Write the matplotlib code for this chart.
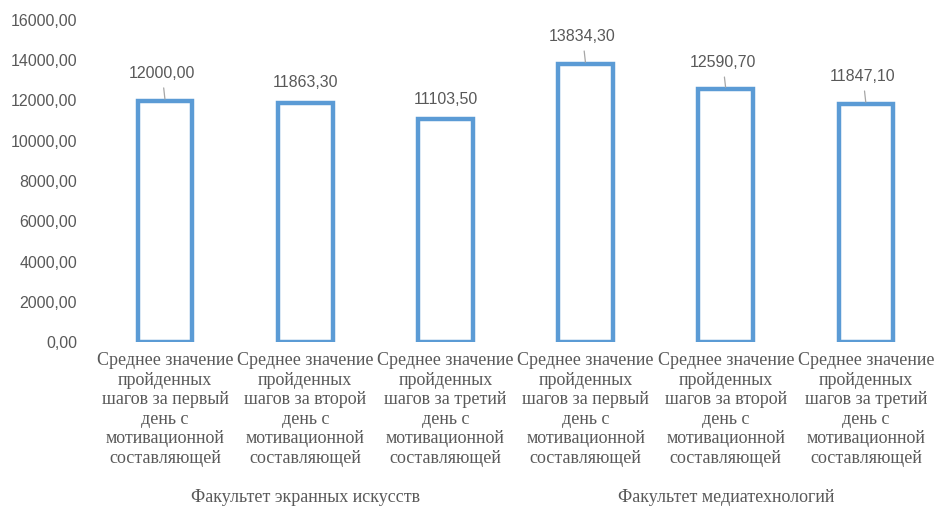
import matplotlib.pyplot as plt

# average steps per day, two faculties x three days
faculties = ['Факультет экранных искусств', 'Факультет медиатехнологий']
day_labels = [
    'Среднее значение\nпройденных\nшагов за первый\nдень с\nмотивационной\nсоставляющей',
    'Среднее значение\nпройденных\nшагов за второй\nдень с\nмотивационной\nсоставляющей',
    'Среднее значение\nпройденных\nшагов за третий\nдень с\nмотивационной\nсоставляющей',
]
screen_arts = [12000.00, 11863.30, 11103.50]
media_tech = [13834.30, 12590.70, 11847.10]

values = screen_arts + media_tech
cat_labels = day_labels * 2
y_ticks = list(range(0, 16001, 2000))

blue = '#5B9BD5'
grey = '#595959'

fig = plt.figure(figsize=(9.36, 5.08), dpi=100)
ax = fig.add_axes([95 / 936, 1 - 342 / 508, 841 / 936, 322 / 508])

x = list(range(len(values)))
bars = ax.bar(x, values, width=0.39, facecolor='white', edgecolor=blue,
              linewidth=3.2, zorder=3)

ax.set_xlim(-0.5, len(values) - 0.5)
ax.set_ylim(0, 16000)
ax.set_yticks(y_ticks)
ax.set_yticklabels([f'{v:.2f}'.replace('.', ',') for v in y_ticks],
                   fontsize=11.5, color=grey, family='Liberation Sans')
ax.tick_params(axis='y', length=0, pad=13)
ax.set_xticks([])
for s in ax.spines.values():
    s.set_visible(False)

# value labels, some with a small leader line down to the bar
label_offsets = [27, 21, 19, 27, 26, 27]
for xi, v, off in zip(x, values, label_offsets):
    txt = f'{v:.2f}'.replace('.', ',')
    if off > 24:
        ax.annotate(txt, xy=(xi, v), xytext=(-3, off), textcoords='offset pixels',
                    ha='center', va='center', fontsize=11.5, color=grey,
                    family='Liberation Sans',
                    arrowprops=dict(arrowstyle='-', color='#a6a6a6', lw=0.9,
                                    shrinkA=3, shrinkB=1))
    else:
        ax.annotate(txt, xy=(xi, v), xytext=(0, off), textcoords='offset pixels',
                    ha='center', va='center', fontsize=11.5, color=grey,
                    family='Liberation Sans')

# category labels under each bar
for xi, lab in zip(x, cat_labels):
    ax.text(xi, -500, lab, ha='center', va='top', fontsize=13, color=grey,
            family='Liberation Serif', linespacing=1.2)

# faculty group labels
for gi, name in enumerate(faculties):
    ax.text(gi * 3 + 1, -7750, name, ha='center', va='center', fontsize=13,
            color=grey, family='Liberation Serif', clip_on=False)

fig.savefig('out.png', dpi=100)
